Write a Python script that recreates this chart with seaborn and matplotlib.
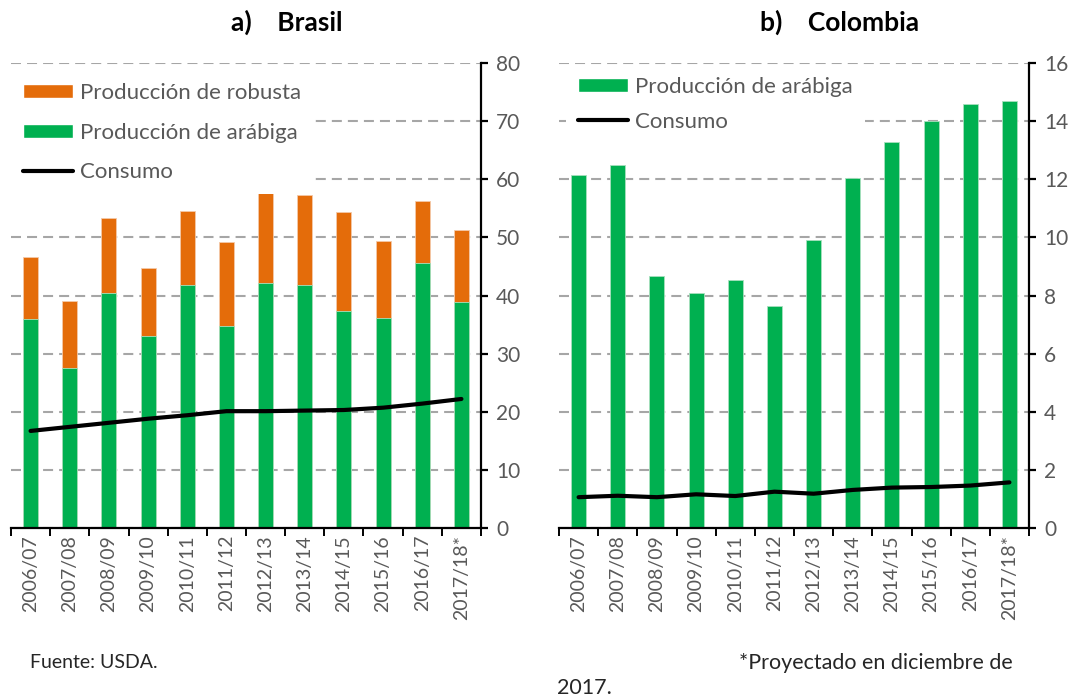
import matplotlib
matplotlib.use("Agg")
import matplotlib.pyplot as plt
import pandas as pd
import seaborn as sns
from matplotlib.lines import Line2D
from matplotlib.patches import Patch
from matplotlib.ticker import FixedLocator

# datos
campanas = ["2006/07", "2007/08", "2008/09", "2009/10", "2010/11", "2011/12",
            "2012/13", "2013/14", "2014/15", "2015/16", "2016/17", "2017/18*"]
bra_arabiga = [36.0, 27.6, 40.5, 33.0, 41.8, 34.7, 42.1, 41.8, 37.3, 36.2, 45.6, 38.9]
bra_robusta = [10.7, 11.5, 12.8, 11.8, 12.8, 14.5, 15.6, 15.5, 17.1, 13.2, 10.6, 12.4]
bra_consumo = [16.7, 17.4, 18.1, 18.8, 19.4, 20.1, 20.1, 20.2, 20.3, 20.7, 21.4, 22.2]
col_arabiga = [12.15, 12.5, 8.66, 8.08, 8.52, 7.64, 9.92, 12.06, 13.29, 14.0, 14.59, 14.7]
col_consumo = [1.06, 1.11, 1.06, 1.16, 1.10, 1.25, 1.18, 1.31, 1.39, 1.41, 1.46, 1.57]

VERDE = "#00B050"
NARANJA = "#E46C0A"
GRIS = "#595959"

df_bra = pd.DataFrame({"campana": campanas, "arabiga": bra_arabiga,
                       "robusta": bra_robusta, "consumo": bra_consumo})
df_bra["total"] = df_bra["arabiga"] + df_bra["robusta"]
df_col = pd.DataFrame({"campana": campanas, "arabiga": col_arabiga, "consumo": col_consumo})

sns.set_theme(style="white")
plt.rcParams["font.family"] = ["Lato", "DejaVu Sans"]

fig = plt.figure(figsize=(10.79, 7.0), dpi=100)
ax1 = fig.add_axes([11 / 1079, 172 / 700, 470 / 1079, 465 / 700])
ax2 = fig.add_axes([559 / 1079, 172 / 700, 470 / 1079, 465 / 700])


def estilo(ax, ymax, paso):
    ax.set_xlim(-0.5, len(campanas) - 0.5)
    ax.set_ylim(0, ymax)
    ax.set_yticks(range(0, ymax + 1, paso))
    ax.yaxis.tick_right()
    ax.set_xlabel("")
    ax.set_ylabel("")
    for lado in ["left", "top"]:
        ax.spines[lado].set_visible(False)
    for lado in ["right", "bottom"]:
        ax.spines[lado].set_color("black")
        ax.spines[lado].set_linewidth(1.6)
    ax.grid(axis="y", color="#A6A6A6", linewidth=1.5, linestyle=(0, (4.8, 2.9)))
    ax.set_axisbelow(True)
    ax.tick_params(axis="y", which="major", right=True, direction="out", length=5,
                   width=1.6, color="black", pad=6, labelsize=15, labelcolor=GRIS)
    ax.set_xticks(range(len(campanas)))
    ax.set_xticklabels(campanas, rotation=90, fontsize=14, color=GRIS)
    ax.tick_params(axis="x", which="major", length=0, pad=5)
    ax.xaxis.set_minor_locator(FixedLocator([i - 0.5 for i in range(len(campanas) + 1)]))
    ax.tick_params(axis="x", which="minor", bottom=True, direction="out", length=6,
                   width=1.4, color="black")


# a) Brasil
sns.barplot(data=df_bra, x="campana", y="total", color=NARANJA, saturation=1,
            width=0.38, edgecolor="#F4C9A8", linewidth=0.6, ax=ax1)
sns.barplot(data=df_bra, x="campana", y="arabiga", color=VERDE, saturation=1,
            width=0.38, edgecolor="#A8E0BE", linewidth=0.6, ax=ax1)
sns.pointplot(data=df_bra, x="campana", y="consumo", color="black", markers="",
              linewidth=3, errorbar=None, ax=ax1)
estilo(ax1, 80, 10)

# b) Colombia
sns.barplot(data=df_col, x="campana", y="arabiga", color=VERDE, saturation=1,
            width=0.38, edgecolor="#A8E0BE", linewidth=0.6, ax=ax2)
sns.pointplot(data=df_col, x="campana", y="consumo", color="black", markers="",
              linewidth=3, errorbar=None, ax=ax2)
estilo(ax2, 16, 2)

h_rob = Patch(facecolor=NARANJA, label="Producción de robusta")
h_ara = Patch(facecolor=VERDE, label="Producción de arábiga")
h_con = Line2D([], [], color="black", linewidth=3, label="Consumo")

leg1 = ax1.legend(handles=[h_rob, h_ara, h_con], loc="upper left",
                  bbox_to_anchor=(0.0, 0.983), fontsize=16, handlelength=2.25,
                  handleheight=0.6, handletextpad=0.3, labelspacing=0.88,
                  frameon=True, facecolor="white", edgecolor="none", framealpha=1,
                  borderpad=0.55, borderaxespad=0)
leg2 = ax2.legend(handles=[h_ara, h_con], loc="upper left",
                  bbox_to_anchor=(0.015, 0.996), fontsize=16, handlelength=2.25,
                  handleheight=0.6, handletextpad=0.3, labelspacing=0.66,
                  frameon=True, facecolor="white", edgecolor="none", framealpha=1,
                  borderpad=0.55, borderaxespad=0)
for leg in (leg1, leg2):
    for t in leg.get_texts():
        t.set_color(GRIS)

fig.text(287 / 1079, 1 - 22 / 700, "a)    Brasil", ha="center", va="center",
         fontsize=19, fontweight="bold", color="black")
fig.text(840 / 1079, 1 - 22 / 700, "b)    Colombia", ha="center", va="center",
         fontsize=19, fontweight="bold", color="black")

fig.text(30 / 1079, 1 - 663 / 700, "Fuente: USDA.", ha="left", va="center",
         fontsize=14, color="#262626")
fig.text(1013 / 1079, 1 - 663 / 700, "*Proyectado en diciembre de", ha="right",
         va="center", fontsize=15.5, color="#262626")
fig.text(557 / 1079, 1 - 688 / 700, "2017.", ha="left", va="center",
         fontsize=15.5, color="#262626")

fig.savefig("out.png", dpi=100, facecolor="white")
